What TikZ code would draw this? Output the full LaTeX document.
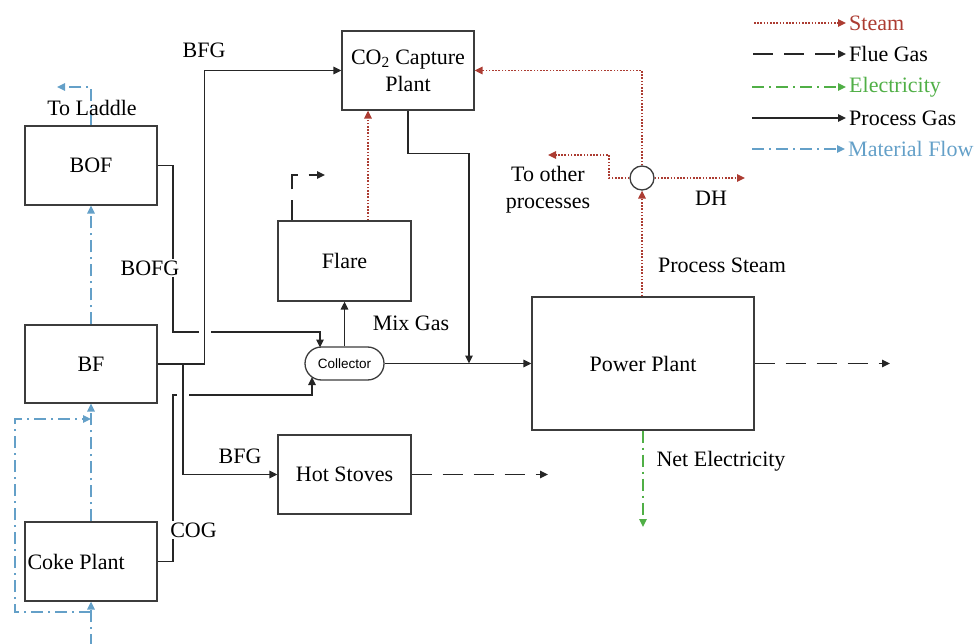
\documentclass[tikz,border=0pt]{standalone}
\usepackage{fontspec}
\setmainfont{Liberation Serif}
\newfontfamily\collfont{Liberation Sans}
\usetikzlibrary{arrows.meta,shapes.misc}
\definecolor{steamc}{RGB}{172,60,50}
\definecolor{elecc}{RGB}{80,175,70}
\definecolor{matc}{RGB}{100,160,200}
\definecolor{boxc}{RGB}{60,60,60}
\begin{document}
\begin{tikzpicture}[x=1pt,y=-1pt,
  every node/.style={font=\fontsize{22}{27}\selectfont},
  unit/.style={draw=boxc, line width=1.3pt, inner sep=0pt, minimum width=132pt, minimum height=79pt},
  tip/.style={-{Triangle[length=8pt,width=7.5pt]}},
  gas/.style={line width=1.6pt, draw=black!85, tip},
  flue/.style={gas, dash pattern=on 20pt off 11pt},
  steam/.style={line width=1.5pt, draw=steamc, dash pattern=on 1.6pt off 1.6pt, tip},
  elec/.style={line width=1.5pt, draw=elecc, dash pattern=on 12pt off 5pt on 2pt off 5pt, tip},
  mat/.style={line width=1.5pt, draw=matc, dash pattern=on 12pt off 5pt on 2pt off 5pt, tip},
  lbl/.style={inner sep=1pt},
  gap/.style={fill=white, inner sep=2pt}]
\useasboundingbox (0,0) rectangle (976,644);

% units
\node[unit] (bof) at (91,165.5) {BOF};
\node[unit, minimum height=78pt] (bf) at (91,364) {BF};
\node[unit, label={[anchor=west, inner sep=3pt]west:Coke Plant}] (coke) at (91,561.5) {};
\node[unit, align=center] (co2) at (408,70.5) {CO\textsubscript{2} Capture\\Plant};
\node[unit, minimum width=133pt, minimum height=80pt] (flare) at (344.5,261) {Flare};
\node[unit, minimum width=133pt] (stoves) at (344.5,474.5) {Hot Stoves};
\node[unit, minimum width=222pt, minimum height=133pt] (power) at (643,363.5) {Power Plant};
\node[rounded rectangle, draw=boxc, line width=1.3pt, minimum width=79pt, minimum height=33pt, inner sep=0pt,
      font=\collfont\fontsize{13.5}{15}\selectfont] (coll) at (344.5,363.5) {Collector};
\node[circle, draw=boxc, line width=1.3pt, minimum size=24pt, inner sep=0pt] (split) at (642,178) {};

% helper coordinates
\coordinate (cin1) at (320,347.5);
\coordinate (cin2) at (312,377);
\coordinate (j1) at (183,364);
\coordinate (j2) at (469,363.5);
\coordinate (ppflue) at (890,363.5);
\coordinate (hsflue) at (548,474.5);
\coordinate (flflue) at (325,175);
\coordinate (oth) at (548,155);
\coordinate (dh) at (745,178);
\coordinate (elout) at (643,527);
\coordinate (ladle) at (57,87);
\coordinate (matin) at (91,646);
\coordinate (m1) at (91,612);
\coordinate (m2) at (91,419);

% process gas lines with crossings
\draw[gas] (bof.east) -| (173,332) -| (cin1);
\draw[gas] (coke.east) -| (173,395) -| (cin2);
\fill[white] (199,328) rectangle (211,336);
\fill[white] (177,391) rectangle (189,399);
\draw[gas] (bf.east) -| ([xshift=-137pt]co2.west) -- (co2.west);
\draw[gas] (j1) |- (stoves.west);
\draw[gas] (coll.east) -- (power.west);
\draw[gas] (co2.south) -- ++(0,43) -| (j2);
\draw[gas] (coll.north) -- (flare.south);

% flue gas
\draw[flue] ([xshift=-52.5pt]flare.north) |- (flflue);
\draw[flue] (power.east) -- (ppflue);
\draw[flue] (stoves.east) -- (hsflue);

% steam
\draw[steam] ([xshift=23.5pt]flare.north) -- ([xshift=-40pt]co2.south);
\draw[steam] (split |- power.north) -- (split.south);
\draw[steam] (split.north) |- (co2.east);
\draw[steam] (split.west) -| ([xshift=61pt]oth) -- (oth);
\draw[steam] (split.east) -- (dh);

% electricity
\draw[elec] (power.south) -- (elout);

% material flow
\draw[mat] (bf.north) -- (bof.south);
\draw[mat] (bof.north) |- (ladle);
\draw[mat] (coke.north) -- (bf.south);
\draw[mat] (matin) -- (coke.south);
\draw[mat] (m1) -- ++(-76,0) |- (m2);

% labels
\node[lbl] (lbfg1) at (204,50) {BFG};
\node[lbl] (lladle) at (92,108) {To Laddle};
\node[gap] (lbofg) at (150,268) {BOFG};
\node[lbl] (lmix) at (411,323) {Mix Gas};
\node[lbl] (lbfg2) at (240,456) {BFG};
\node[gap] (lcog) at (193.5,530) {COG};
\node[lbl, align=center] (loth) at (548,189.5) {To other\\processes};
\node[lbl] (ldh) at (711,198) {DH};
\node[lbl] (lps) at (722,265) {Process Steam};
\node[lbl] (lne) at (721,461) {Net Electricity};

% legend
\node[anchor=west, inner sep=3pt, text=steamc] (lg1) at (846,23) {Steam};
\node[anchor=west, inner sep=3pt] (lg2) at (846,54) {Flue Gas};
\node[anchor=west, inner sep=3pt, text=elecc] (lg3) at (846,87) {Electricity};
\node[anchor=west, inner sep=3pt] (lg4) at (846,118) {Process Gas};
\node[anchor=west, inner sep=3pt, text=matc] (lg5) at (845,149) {Material Flow};
\draw[steam] (754,23) -- (lg1.west);
\draw[flue] (753,54) -- (lg2.west);
\draw[elec] (752,87) -- (lg3.west);
\draw[gas] (752,118) -- (lg4.west);
\draw[mat] (752,149) -- (lg5.west);
\end{tikzpicture}
\end{document}
